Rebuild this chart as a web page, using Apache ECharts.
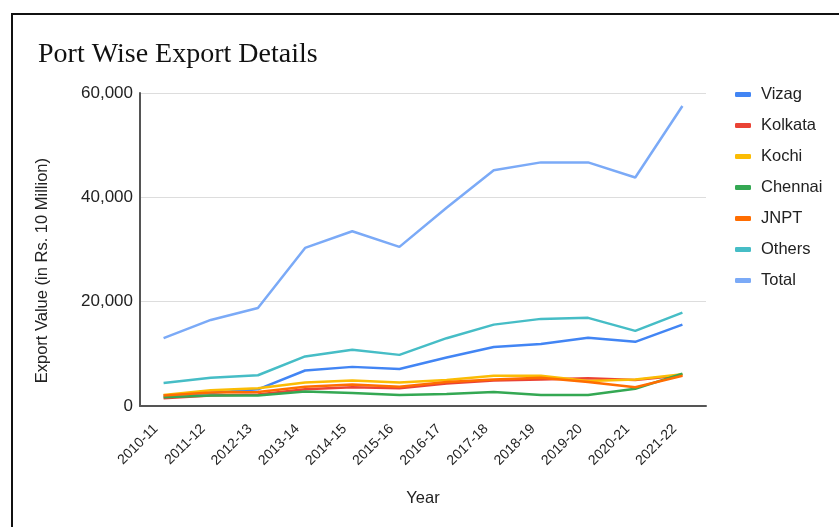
<!DOCTYPE html>
<html>
<head>
<meta charset="utf-8">
<script src="https://cdn.jsdelivr.net/npm/echarts@6/dist/echarts.min.js"></script>
<style>
html,body{margin:0;padding:0;background:#fff;}
#chart{width:839px;height:527px;}
#frame{position:absolute;left:11px;top:13px;width:840px;height:530px;border-top:2px solid #111;border-left:2px solid #111;pointer-events:none;}
</style>
</head>
<body>
<div id="chart"></div>
<div id="frame"></div>
<script>
const years = ['2010-11','2011-12','2012-13','2013-14','2014-15','2015-16','2016-17','2017-18','2018-19','2019-20','2020-21','2021-22'];
const vizag   = [2000, 2500, 3200, 6800, 7500, 7100, 9300, 11300, 11900, 13100, 12300, 15600];
const kolkata = [1500, 2000, 2200, 3200, 3600, 3400, 4300, 4900, 5100, 5300, 5000, 5900];
const kochi   = [2100, 3000, 3400, 4500, 4900, 4500, 5000, 5800, 5800, 4800, 5100, 6100];
const chennai = [1700, 2000, 2000, 2800, 2500, 2100, 2300, 2700, 2100, 2100, 3300, 6200];
const jnpt    = [2000, 2600, 2700, 3700, 4100, 3700, 4600, 5100, 5400, 4600, 3600, 5800];
const others  = [4400, 5400, 5900, 9500, 10800, 9800, 13000, 15600, 16700, 16900, 14400, 17900];
const total   = [13000, 16500, 18800, 30300, 33500, 30500, 38000, 45200, 46700, 46700, 43800, 57500];
const yTicks  = [0, 20000, 40000, 60000];

const seriesDefs = [
  ['Vizag', vizag, '#4285F4'],
  ['Kolkata', kolkata, '#EA4335'],
  ['Kochi', kochi, '#FBBC04'],
  ['Chennai', chennai, '#34A853'],
  ['JNPT', jnpt, '#FF6D01'],
  ['Others', others, '#46BDC6'],
  ['Total', total, '#7BAAF7']
];

const chart = echarts.init(document.getElementById('chart'));
chart.setOption({
  animation: false,
  backgroundColor: '#fff',
  title: {
    text: 'Port Wise Export Details',
    left: 33, top: 36,
    textStyle: {fontFamily: 'Liberation Serif', fontWeight: 'normal', fontSize: 28, color: '#111'}
  },
  legend: {
    orient: 'vertical',
    left: 730, top: 81,
    itemWidth: 16, itemHeight: 5,
    itemGap: 14,
    icon: 'roundRect',
    textStyle: {fontFamily: 'Liberation Sans', fontSize: 16.5, color: '#222', padding: [0,0,0,5]},
    data: seriesDefs.map(s => s[0])
  },
  graphic: [{
    type: 'text',
    left: 34, top: 158,
    rotation: Math.PI/2,
    style: {text: 'Export Value (in Rs. 10 Million)', font: '16.5px "Liberation Sans"', fill: '#222'}
  }],
  grid: {left: 140, right: 133, top: 93, bottom: 121},
  xAxis: {
    type: 'category',
    data: years,
    boundaryGap: true,
    name: 'Year',
    nameLocation: 'middle',
    nameGap: 84,
    nameTextStyle: {fontFamily: 'Liberation Sans', fontSize: 16.5, color: '#222'},
    axisLine: {lineStyle: {color: '#555', width: 2}},
    axisTick: {show: false},
    axisLabel: {rotate: 45, fontFamily: 'Liberation Sans', fontSize: 14, color: '#222', margin: 13, padding: [0, 11, 0, 0], interval: 0}
  },
  yAxis: {
    type: 'value',
    min: yTicks[0], max: yTicks[yTicks.length-1], interval: 20000,
    axisLine: {show: true, lineStyle: {color: '#555', width: 2}},
    axisTick: {show: false},
    splitLine: {lineStyle: {color: '#ddd', width: 1}},
    axisLabel: {
      fontFamily: 'Liberation Sans', fontSize: 17, color: '#222', margin: 7,
      formatter: v => v.toLocaleString('en-US')
    }
  },
  series: seriesDefs.map(([name, data, color]) => ({
    name, type: 'line', data,
    showSymbol: false, symbol: 'none',
    lineStyle: {color, width: 2.5},
    itemStyle: {color},
    z: 2
  }))
});
</script>
</body>
</html>
